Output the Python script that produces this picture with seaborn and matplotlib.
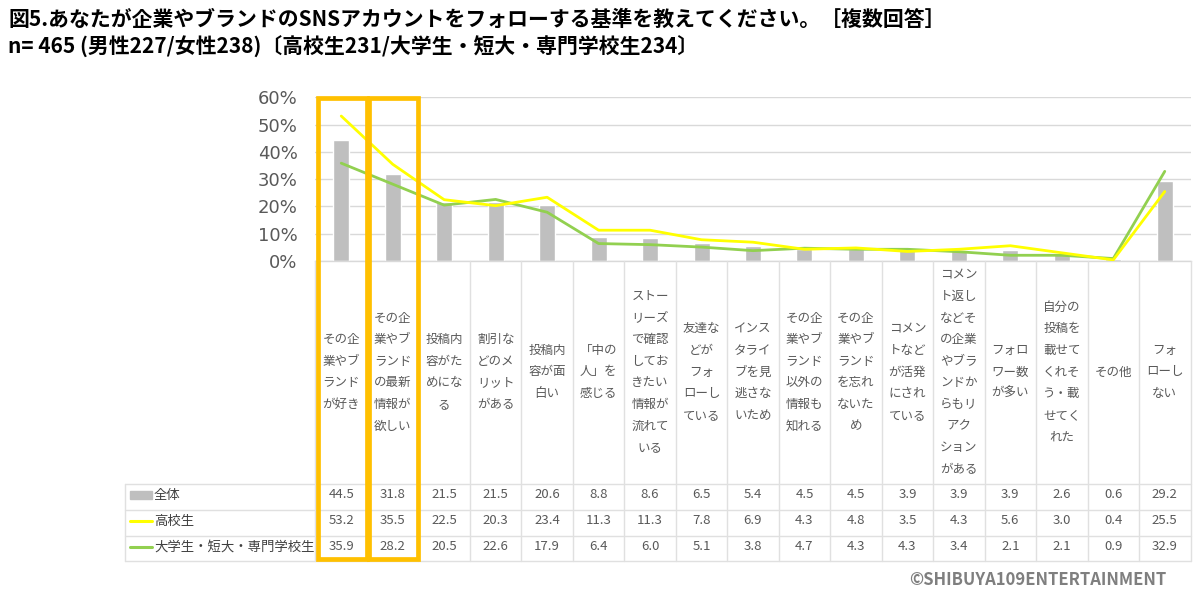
import numpy as np
import pandas as pd
import matplotlib
matplotlib.use("Agg")
import matplotlib.pyplot as plt
import seaborn as sns
from matplotlib.patches import Rectangle
from matplotlib.transforms import blended_transform_factory

# ---------------- data ----------------
categories = [
    "その企\n業やブ\nランド\nが好き",
    "その企\n業やブ\nランド\nの最新\n情報が\n欲しい",
    "投稿内\n容がた\nめにな\nる",
    "割引な\nどのメ\nリット\nがある",
    "投稿内\n容が面\n白い",
    "「中の\n人」を\n感じる",
    "ストー\nリーズ\nで確認\nしてお\nきたい\n情報が\n流れて\nいる",
    "友達な\nどが\nフォ\nローし\nている",
    "インス\nタライ\nブを見\n逃さな\nいため",
    "その企\n業やブ\nランド\n以外の\n情報も\n知れる",
    "その企\n業やブ\nランド\nを忘れ\nないた\nめ",
    "コメン\nトなど\nが活発\nにされ\nている",
    "コメン\nト返し\nなどそ\nの企業\nやブラ\nンドか\nらもリ\nアク\nション\nがある",
    "フォロ\nワー数\nが多い",
    "自分の\n投稿を\n載せて\nくれそ\nう・載\nせてく\nれた",
    "その他",
    "フォ\nローし\nない",
]
overall = [44.5, 31.8, 21.5, 21.5, 20.6, 8.8, 8.6, 6.5, 5.4, 4.5, 4.5, 3.9, 3.9, 3.9, 2.6, 0.6, 29.2]
highschool = [53.2, 35.5, 22.5, 20.3, 23.4, 11.3, 11.3, 7.8, 6.9, 4.3, 4.8, 3.5, 4.3, 5.6, 3.0, 0.4, 25.5]
college = [35.9, 28.2, 20.5, 22.6, 17.9, 6.4, 6.0, 5.1, 3.8, 4.7, 4.3, 4.3, 3.4, 2.1, 2.1, 0.9, 32.9]
series_names = ["全体", "高校生", "大学生・短大・専門学校生"]
yticks = [0, 0.1, 0.2, 0.3, 0.4, 0.5, 0.6]
highlight = [0, 1]

title1 = "図5.あなたが企業やブランドのSNSアカウントをフォローする基準を教えてください。［複数回答］"
title2 = "n= 465 (男性227/女性238)〔高校生231/大学生・短大・専門学校生234〕"
credit = "©SHIBUYA109ENTERTAINMENT"

# ---------------- style ----------------
sns.set_theme(style="white")
plt.rcParams["font.family"] = ["Noto Sans CJK JP", "DejaVu Sans"]

GRAY_BAR = "#bfbfbf"
YELLOW = "#ffff00"
GREEN = "#92d050"
BOX = "#ffc000"
GRID = "#d9d9d9"
TXT = "#595959"

W, H = 1195, 596
fig = plt.figure(figsize=(W / 100, H / 100), dpi=100)

def fx(px):
    return px / W

def fy(py):
    return 1 - py / H

ax_left, ax_right = 315.5, 1190.5
ax = fig.add_axes([fx(ax_left), fy(261), fx(ax_right - ax_left), (261 - 97.5) / H])
tab = fig.add_axes([fx(ax_left), fy(561), fx(ax_right - ax_left), (561 - 261) / H])

n = len(categories)
idx = np.arange(n)
df = pd.DataFrame({
    "pos": idx,
    "cat": [str(i) for i in idx],
    "overall": np.array(overall) / 100,
    "high": np.array(highschool) / 100,
    "college": np.array(college) / 100,
})

sns.barplot(data=df, x="cat", y="overall", color=GRAY_BAR, width=0.31,
            saturation=1, ax=ax, zorder=2)
sns.lineplot(data=df, x="pos", y="college", color=GREEN, linewidth=2.0, ax=ax, zorder=3)
sns.lineplot(data=df, x="pos", y="high", color=YELLOW, linewidth=2.0, ax=ax, zorder=4)

ax.set_xlim(-0.5, n - 0.5)
ax.set_ylim(0, 0.6)
ax.set_yticks(yticks)
ax.set_yticklabels([f"{int(round(t*100))}%" for t in yticks], color=TXT, fontsize=13,
                   family=["DejaVu Sans"])
ax.tick_params(axis="y", length=0, pad=13)
ax.set_xticks([])
ax.set_xlabel("")
ax.set_ylabel("")
for s in ["top", "right", "left"]:
    ax.spines[s].set_visible(False)
ax.spines["bottom"].set_color(GRID)
ax.spines["bottom"].set_linewidth(1)
ax.yaxis.grid(True, color=GRID, linewidth=1, zorder=0)
ax.set_axisbelow(True)

# ---------------- data table ----------------
tab.set_xlim(-0.5, n - 0.5)
tab.set_ylim(561, 261)
tab.axis("off")
row_y = [495, 521, 547]
hlines = [483.5, 509.5, 535.5, 560.5]
colw = (ax_right - ax_left) / n
leg_left = (125 - ax_left) / colw - 0.5
for y in hlines:
    tab.plot([leg_left, n - 0.5], [y, y], color="#e0e0e0", lw=1, clip_on=False)
for b in np.arange(-0.5, n, 1.0):
    tab.plot([b, b], [261, 560.5], color="#e0e0e0", lw=1, clip_on=False)
tab.plot([leg_left, leg_left], [483.5, 560.5], color="#e0e0e0", lw=1, clip_on=False)

for i, lab in enumerate(categories):
    tab.text(i, 372, lab, ha="center", va="center", fontsize=9, color=TXT,
             linespacing=1.86)
for r, vals in enumerate([overall, highschool, college]):
    for i, v in enumerate(vals):
        tab.text(i, row_y[r], f"{v:.1f}", ha="center", va="center", fontsize=9.5,
                 color=TXT)

# legend keys in the table
kx0, kx1 = leg_left + (130 - 125) / colw, leg_left + (152 - 125) / colw
tab.add_patch(Rectangle((kx0, row_y[0] - 4), kx1 - kx0, 8, color=GRAY_BAR, clip_on=False))
tab.plot([kx0, kx1], [row_y[1], row_y[1]], color=YELLOW, lw=2.2, clip_on=False)
tab.plot([kx0, kx1], [row_y[2], row_y[2]], color=GREEN, lw=2.2, clip_on=False)
for r, name in enumerate(series_names):
    tab.text(leg_left + (154 - 125) / colw, row_y[r], name, ha="left", va="center",
             fontsize=9.6, color="#404040")

# highlight boxes
trans = blended_transform_factory(ax.transData, fig.transFigure)
for i in highlight:
    rect = Rectangle((i - 0.46, fy(558.5)), 0.96, fy(98.5) - fy(558.5), transform=trans,
                     fill=False, edgecolor=BOX, linewidth=3.4, zorder=10)
    fig.add_artist(rect)

# titles
fig.text(fx(8), fy(19), title1, ha="left", va="center", fontsize=15,
         fontweight="bold", color="black")
fig.text(fx(8), fy(46), title2, ha="left", va="center", fontsize=15,
         fontweight="bold", color="black")
fig.text(fx(1166), fy(580), credit, ha="right", va="center", fontsize=12,
         fontweight="bold", color="#7f7f7f")

fig.savefig("out.png", dpi=100)
